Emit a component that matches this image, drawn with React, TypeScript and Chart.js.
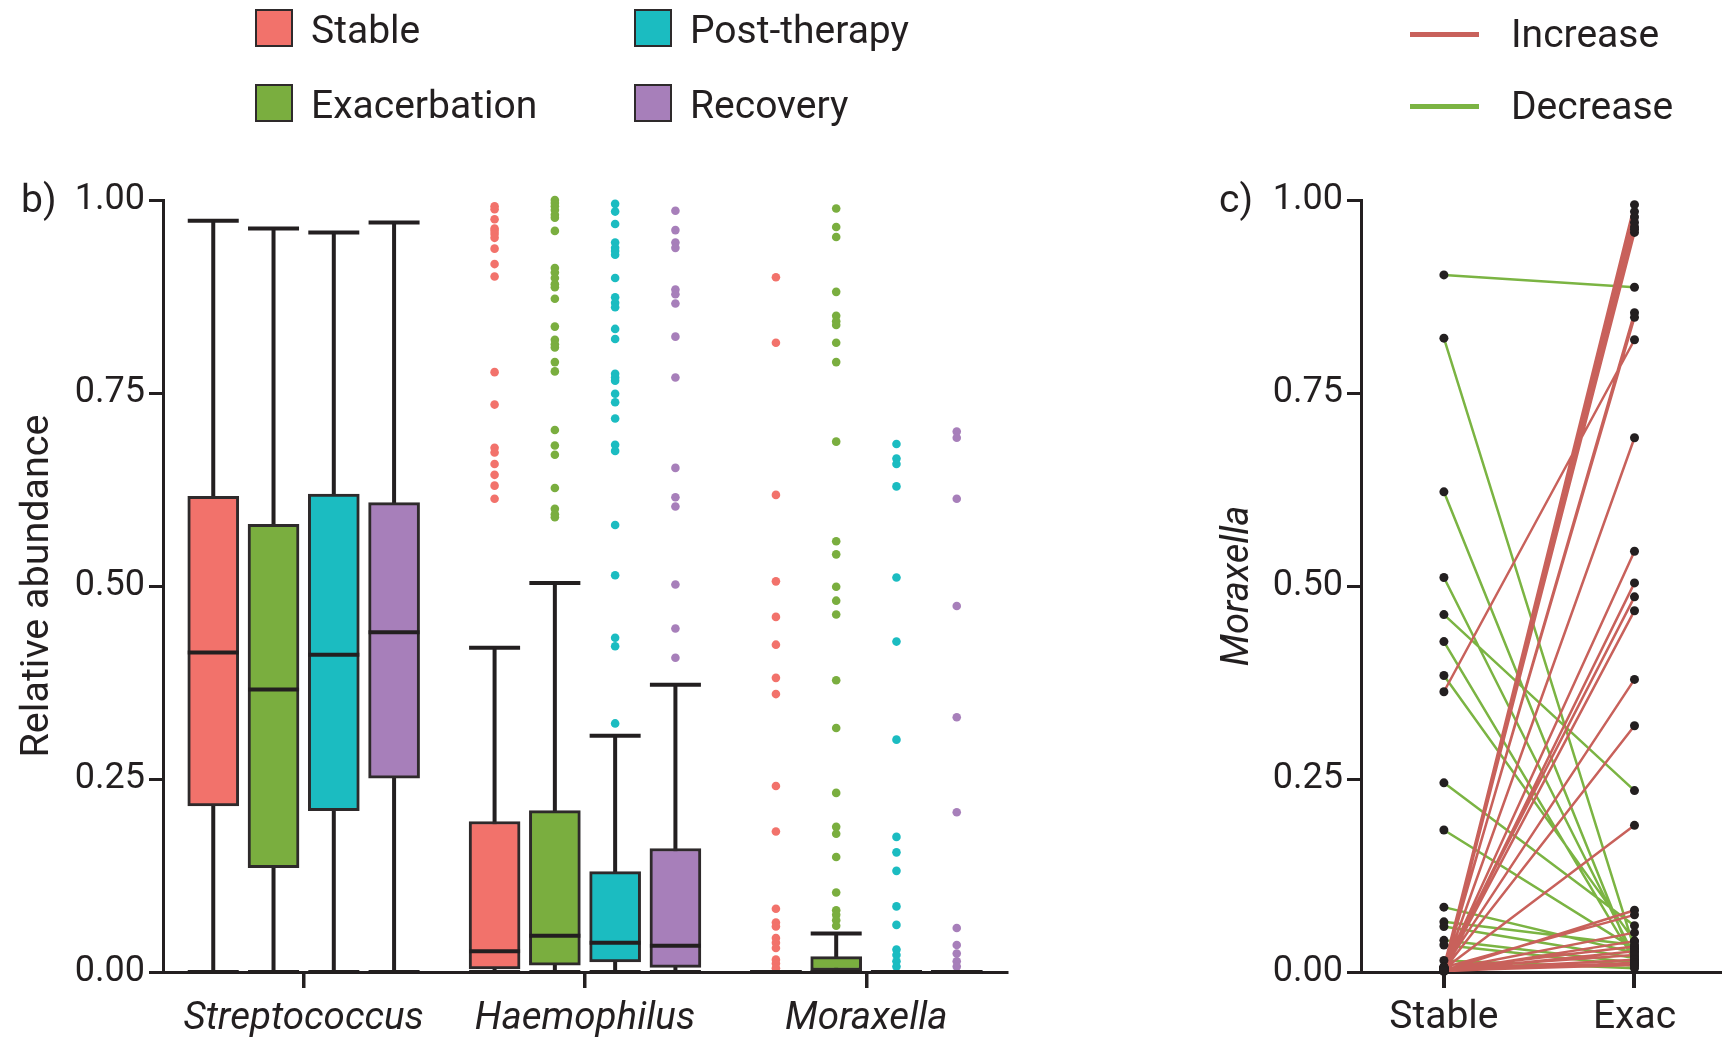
import React, { useEffect, useRef } from 'react';
import { Chart, registerables } from 'chart.js';

Chart.register(...registerables);

const FONT_FAMILY = "Roboto, 'Noto Sans', 'DejaVu Sans', sans-serif";
const INK = '#231f20';

// ---------- panel b: box plots ----------
const categories = ['Streptococcus', 'Haemophilus', 'Moraxella'];
const groupLabels = ['Stable', 'Exacerbation', 'Post-therapy', 'Recovery'];
const groupColors = ['#f2726b', '#7aae3f', '#1bbcc1', '#a77fba'];

// one entry per genus: Streptococcus, Haemophilus, Moraxella
const stableLow = [0, 0, 0];
const stableQ1 = [0.215, 0.004, 0];
const stableMedian = [0.414, 0.027, 0];
const stableQ3 = [0.616, 0.195, 0];
const stableHigh = [0.973, 0.42, 0];

const exacLow = [0, 0, 0];
const exacQ1 = [0.135, 0.009, 0];
const exacMedian = [0.366, 0.047, 0];
const exacQ3 = [0.58, 0.209, 0.02];
const exacHigh = [0.963, 0.504, 0.05];

const postLow = [0, 0, 0];
const postQ1 = [0.209, 0.013, 0];
const postMedian = [0.411, 0.038, 0];
const postQ3 = [0.619, 0.13, 0];
const postHigh = [0.958, 0.306, 0];

const recLow = [0, 0, 0];
const recQ1 = [0.251, 0.006, 0];
const recMedian = [0.44, 0.034, 0];
const recQ3 = [0.608, 0.16, 0];
const recHigh = [0.971, 0.372, 0];

// outlying samples
const stableOutHaem = [0.992, 0.988, 0.975, 0.963, 0.96, 0.956, 0.951, 0.937, 0.917, 0.901, 0.777, 0.735, 0.679, 0.673, 0.658, 0.644, 0.63, 0.613];
const stableOutMorax = [0.9, 0.815, 0.618, 0.506, 0.46, 0.424, 0.381, 0.36, 0.241, 0.182, 0.082, 0.064, 0.059, 0.044, 0.038, 0.031, 0.016, 0.011, 0.005];
const exacOutHaem = [1.0, 0.996, 0.992, 0.987, 0.981, 0.977, 0.96, 0.912, 0.906, 0.899, 0.891, 0.887, 0.872, 0.836, 0.819, 0.813, 0.809, 0.79, 0.778, 0.702, 0.682, 0.67, 0.627, 0.6, 0.593, 0.589];
const exacOutMorax = [0.989, 0.965, 0.952, 0.881, 0.85, 0.843, 0.838, 0.815, 0.79, 0.687, 0.558, 0.541, 0.499, 0.481, 0.463, 0.378, 0.316, 0.232, 0.188, 0.179, 0.149, 0.103, 0.08, 0.074, 0.067, 0.06];
const postOutHaem = [0.995, 0.985, 0.969, 0.945, 0.938, 0.934, 0.929, 0.899, 0.874, 0.867, 0.861, 0.833, 0.82, 0.775, 0.77, 0.766, 0.749, 0.738, 0.717, 0.683, 0.675, 0.579, 0.514, 0.433, 0.422, 0.322];
const postOutMorax = [0.684, 0.665, 0.658, 0.629, 0.511, 0.428, 0.301, 0.175, 0.155, 0.131, 0.085, 0.061, 0.029, 0.022, 0.014, 0.007];
const recOutHaem = [0.986, 0.961, 0.945, 0.938, 0.884, 0.878, 0.866, 0.823, 0.77, 0.653, 0.615, 0.603, 0.502, 0.445, 0.407];
const recOutMorax = [0.7, 0.692, 0.613, 0.474, 0.33, 0.207, 0.057, 0.035, 0.024, 0.014, 0.007];

const yTicks = [0, 0.25, 0.5, 0.75, 1];

// ---------- panel c: paired Moraxella abundance ----------
const pairStable = [
  0.903, 0.821, 0.622, 0.511, 0.463, 0.428, 0.384, 0.245, 0.184, 0.084, 0.065, 0.059, 0.041, 0.035, 0.015,
  0.003, 0.005, 0.002, 0.006, 0.004, 0.001, 0.007, 0.003, 0.005, 0.363, 0.002, 0.004, 0.003, 0.006, 0.002,
  0.005, 0.003, 0.004, 0.002, 0.006, 0.003, 0.001, 0.004, 0.002, 0.005, 0.003, 0.001, 0.002,
];
const pairExac = [
  0.887, 0.03, 0.01, 0.02, 0.235, 0.015, 0.04, 0.06, 0.03, 0.025, 0.035, 0.018, 0.012, 0.008, 0.005,
  0.994, 0.985, 0.978, 0.971, 0.965, 0.958, 0.962, 0.854, 0.848, 0.819, 0.692, 0.545, 0.504, 0.486, 0.468,
  0.379, 0.319, 0.19, 0.08, 0.074, 0.051, 0.04, 0.033, 0.027, 0.022, 0.016, 0.012, 0.009,
];
const pairTimepoints = ['Stable', 'Exac'];
const changeLabels = ['Increase', 'Decrease'];
const changeColors = ['#c8615b', '#7bb443'];

// each genus spans one unit on the box axis; four boxes share 0.857 of it
const GROUP_SPAN = 0.857;
const BOX_WIDTH = 51;

const lows = [stableLow, exacLow, postLow, recLow];
const q1s = [stableQ1, exacQ1, postQ1, recQ1];
const medians = [stableMedian, exacMedian, postMedian, recMedian];
const q3s = [stableQ3, exacQ3, postQ3, recQ3];
const highs = [stableHigh, exacHigh, postHigh, recHigh];
const outliers = [
  [stableOutHaem, stableOutMorax],
  [exacOutHaem, exacOutMorax],
  [postOutHaem, postOutMorax],
  [recOutHaem, recOutMorax],
];

const tickFont = { family: FONT_FAMILY, size: 36 };

const whiskerPlugin = {
  id: 'whiskers',
  beforeDatasetsDraw(chart: any) {
    const { ctx } = chart;
    const y = chart.scales.y;
    chart.data.datasets.forEach((ds: any, di: number) => {
      if (!ds.whisker) return;
      const meta = chart.getDatasetMeta(di);
      meta.data.forEach((bar: any, i: number) => {
        const { x } = bar.getProps(['x'], true);
        ctx.save();
        ctx.strokeStyle = INK;
        ctx.lineWidth = 4;
        ctx.beginPath();
        ctx.moveTo(x, y.getPixelForValue(ds.whisker.low[i]));
        ctx.lineTo(x, y.getPixelForValue(ds.whisker.high[i]));
        ctx.stroke();
        ctx.restore();
      });
    });
  },
  afterDatasetsDraw(chart: any) {
    const { ctx } = chart;
    const y = chart.scales.y;
    chart.data.datasets.forEach((ds: any, di: number) => {
      if (!ds.whisker) return;
      const meta = chart.getDatasetMeta(di);
      meta.data.forEach((bar: any, i: number) => {
        const { x, width } = bar.getProps(['x', 'width'], true);
        const half = width / 2;
        ctx.save();
        ctx.strokeStyle = INK;
        ctx.lineWidth = 4;
        ctx.lineCap = 'butt';
        [ds.whisker.low[i], ds.whisker.high[i], ds.whisker.median[i]].forEach((v: number) => {
          const py = y.getPixelForValue(v);
          ctx.beginPath();
          ctx.moveTo(x - half, py);
          ctx.lineTo(x + half, py);
          ctx.stroke();
        });
        ctx.restore();
      });
    });
  },
};

function BoxPanel() {
  const ref = useRef<HTMLCanvasElement>(null);
  useEffect(() => {
    const offsetOf = (k: number) => (k - 1.5) * (GROUP_SPAN / 4);
    const boxSets = groupLabels.map((g, k) => ({
      type: 'bar',
      label: g,
      data: categories.map((_, i) => ({ x: i + 1 + offsetOf(k), y: [q1s[k][i], q3s[k][i]] })),
      backgroundColor: groupColors[k],
      borderColor: '#2e2a2b',
      borderWidth: 3,
      borderSkipped: false,
      grouped: false,
      barThickness: BOX_WIDTH,
      xAxisID: 'x2',
      yAxisID: 'y',
      whisker: { low: lows[k], high: highs[k], median: medians[k] },
      order: 2,
    }));
    const dotSets = groupLabels.map((g, k) => ({
      type: 'scatter',
      label: g + ' outliers',
      data: [
        ...outliers[k][0].map((v) => ({ x: 2 + offsetOf(k), y: v })),
        ...outliers[k][1].map((v) => ({ x: 3 + offsetOf(k), y: v })),
      ],
      backgroundColor: groupColors[k],
      borderWidth: 0,
      pointRadius: 4.3,
      xAxisID: 'x2',
      yAxisID: 'y',
      clip: false,
      order: 1,
    }));
    const chart = new Chart(ref.current!, {
      type: 'bar',
      data: { labels: categories, datasets: [...boxSets, ...dotSets] as any },
      plugins: [whiskerPlugin],
      options: {
        responsive: false,
        animation: false,
        events: [],
        layout: { padding: { top: 200, right: 23, left: 0, bottom: 0 } },
        plugins: { legend: { display: false }, tooltip: { enabled: false } },
        scales: {
          x: {
            type: 'category',
            labels: categories,
            offset: true,
            grid: { display: true, drawOnChartArea: false, drawTicks: true, tickLength: 16, offset: false, color: INK, lineWidth: 3.5 },
            border: { display: true, color: INK, width: 3 },
            ticks: { color: INK, font: { family: FONT_FAMILY, size: 38.5, style: 'italic' }, padding: 8, maxRotation: 0 },
            afterFit: (s: any) => { s.height = 66; },
          },
          x2: { type: 'linear', min: 0.5, max: 3.5, offset: false, display: false, grid: { offset: false } },
          y: {
            type: 'linear',
            min: 0,
            max: 1,
            afterBuildTicks: (s: any) => { s.ticks = yTicks.map((v) => ({ value: v })); },
            ticks: { color: INK, font: tickFont, padding: 4, callback: (v: any) => Number(v).toFixed(2) },
            grid: { display: true, drawOnChartArea: false, drawTicks: true, tickLength: 14, color: INK, lineWidth: 3 },
            border: { display: true, color: INK, width: 3 },
            title: { display: true, text: 'Relative abundance', color: INK, font: { family: FONT_FAMILY, size: 39.5 }, padding: { top: 14, bottom: 0 } },
            afterFit: (s: any) => { s.width = 163; },
          },
        },
      } as any,
    });
    return () => chart.destroy();
  }, []);
  return <canvas ref={ref} width={1030} height={1038} style={{ position: 'absolute', left: 0, top: 0 }} />;
}

function PairPanel() {
  const ref = useRef<HTMLCanvasElement>(null);
  useEffect(() => {
    const inc: any[] = [];
    const dec: any[] = [];
    pairStable.forEach((s, i) => {
      const e = pairExac[i];
      const target = e >= s ? inc : dec;
      target.push({ x: 0, y: s }, { x: 1, y: e }, { x: 0.5, y: null });
    });
    const points = [
      ...pairStable.map((v) => ({ x: 0, y: v })),
      ...pairExac.map((v) => ({ x: 1, y: v })),
    ];
    const chart = new Chart(ref.current!, {
      type: 'line',
      data: {
        datasets: [
          { type: 'scatter', label: 'samples', data: points, backgroundColor: INK, borderWidth: 0, pointRadius: 4.5, clip: false, order: 0 },
          { label: changeLabels[0], data: inc, borderColor: changeColors[0], borderWidth: 2.5, pointRadius: 0, spanGaps: false, order: 1 },
          { label: changeLabels[1], data: dec, borderColor: changeColors[1], borderWidth: 2.5, pointRadius: 0, spanGaps: false, order: 2 },
        ] as any,
      },
      options: {
        responsive: false,
        animation: false,
        events: [],
        layout: { padding: { top: 200, right: 0, left: 0, bottom: 0 } },
        plugins: { legend: { display: false }, tooltip: { enabled: false } },
        scales: {
          x: {
            type: 'linear',
            min: -0.435,
            max: 1.446,
            afterBuildTicks: (s: any) => { s.ticks = [{ value: 0 }, { value: 1 }]; },
            ticks: { color: INK, font: { family: FONT_FAMILY, size: 39 }, padding: 7, maxRotation: 0, callback: (_v: any, i: number) => pairTimepoints[i] },
            grid: { display: true, drawOnChartArea: false, drawTicks: true, tickLength: 16, color: INK, lineWidth: 4 },
            border: { display: true, color: INK, width: 3 },
            afterFit: (s: any) => { s.height = 66; },
          },
          y: {
            type: 'linear',
            min: 0,
            max: 1,
            afterBuildTicks: (s: any) => { s.ticks = yTicks.map((v) => ({ value: v })); },
            ticks: { color: INK, font: tickFont, padding: 4, callback: (v: any) => Number(v).toFixed(2) },
            grid: { display: true, drawOnChartArea: false, drawTicks: true, tickLength: 14, color: INK, lineWidth: 3 },
            border: { display: true, color: INK, width: 3 },
            title: { display: true, text: 'Moraxella', color: INK, font: { family: FONT_FAMILY, size: 38, style: 'italic' }, padding: { top: 16, bottom: 0 } },
            afterFit: (s: any) => { s.width = 161; },
          },
        },
      } as any,
    });
    return () => chart.destroy();
  }, []);
  return <canvas ref={ref} width={524} height={1038} style={{ position: 'absolute', left: 1200, top: 0 }} />;
}

const textBase: React.CSSProperties = {
  position: 'absolute',
  fontFamily: FONT_FAMILY,
  fontSize: 39,
  lineHeight: '36px',
  color: INK,
  whiteSpace: 'nowrap',
};

function GroupLegend() {
  const spots = [
    { left: 255, top: 9 },
    { left: 255, top: 84 },
    { left: 634, top: 9 },
    { left: 634, top: 84 },
  ];
  return (
    <>
      {groupLabels.map((g, k) => (
        <React.Fragment key={g}>
          <div
            style={{
              position: 'absolute',
              left: spots[k].left,
              top: spots[k].top,
              width: 34,
              height: 34,
              background: groupColors[k],
              border: '2.5px solid #2e2a2b',
            }}
          />
          <div style={{ ...textBase, left: spots[k].left + 56, top: spots[k].top + 3 }}>{g}</div>
        </React.Fragment>
      ))}
    </>
  );
}

function ChangeLegend() {
  const rows = [34, 106];
  return (
    <>
      {changeLabels.map((c, k) => (
        <React.Fragment key={c}>
          <div style={{ position: 'absolute', left: 1410, top: rows[k] - 2.5, width: 69, height: 5, background: changeColors[k] }} />
          <div style={{ ...textBase, left: 1511, top: rows[k] - 18 }}>{c}</div>
        </React.Fragment>
      ))}
    </>
  );
}

export default function App() {
  return (
    <div style={{ position: 'absolute', left: 0, top: 0, width: 1724, height: 1038, background: '#fff', overflow: 'hidden' }}>
      <BoxPanel />
      <PairPanel />
      <GroupLegend />
      <ChangeLegend />
      <div style={{ ...textBase, left: 21, top: 181 }}>b)</div>
      <div style={{ ...textBase, left: 1219, top: 181 }}>c)</div>
    </div>
  );
}
